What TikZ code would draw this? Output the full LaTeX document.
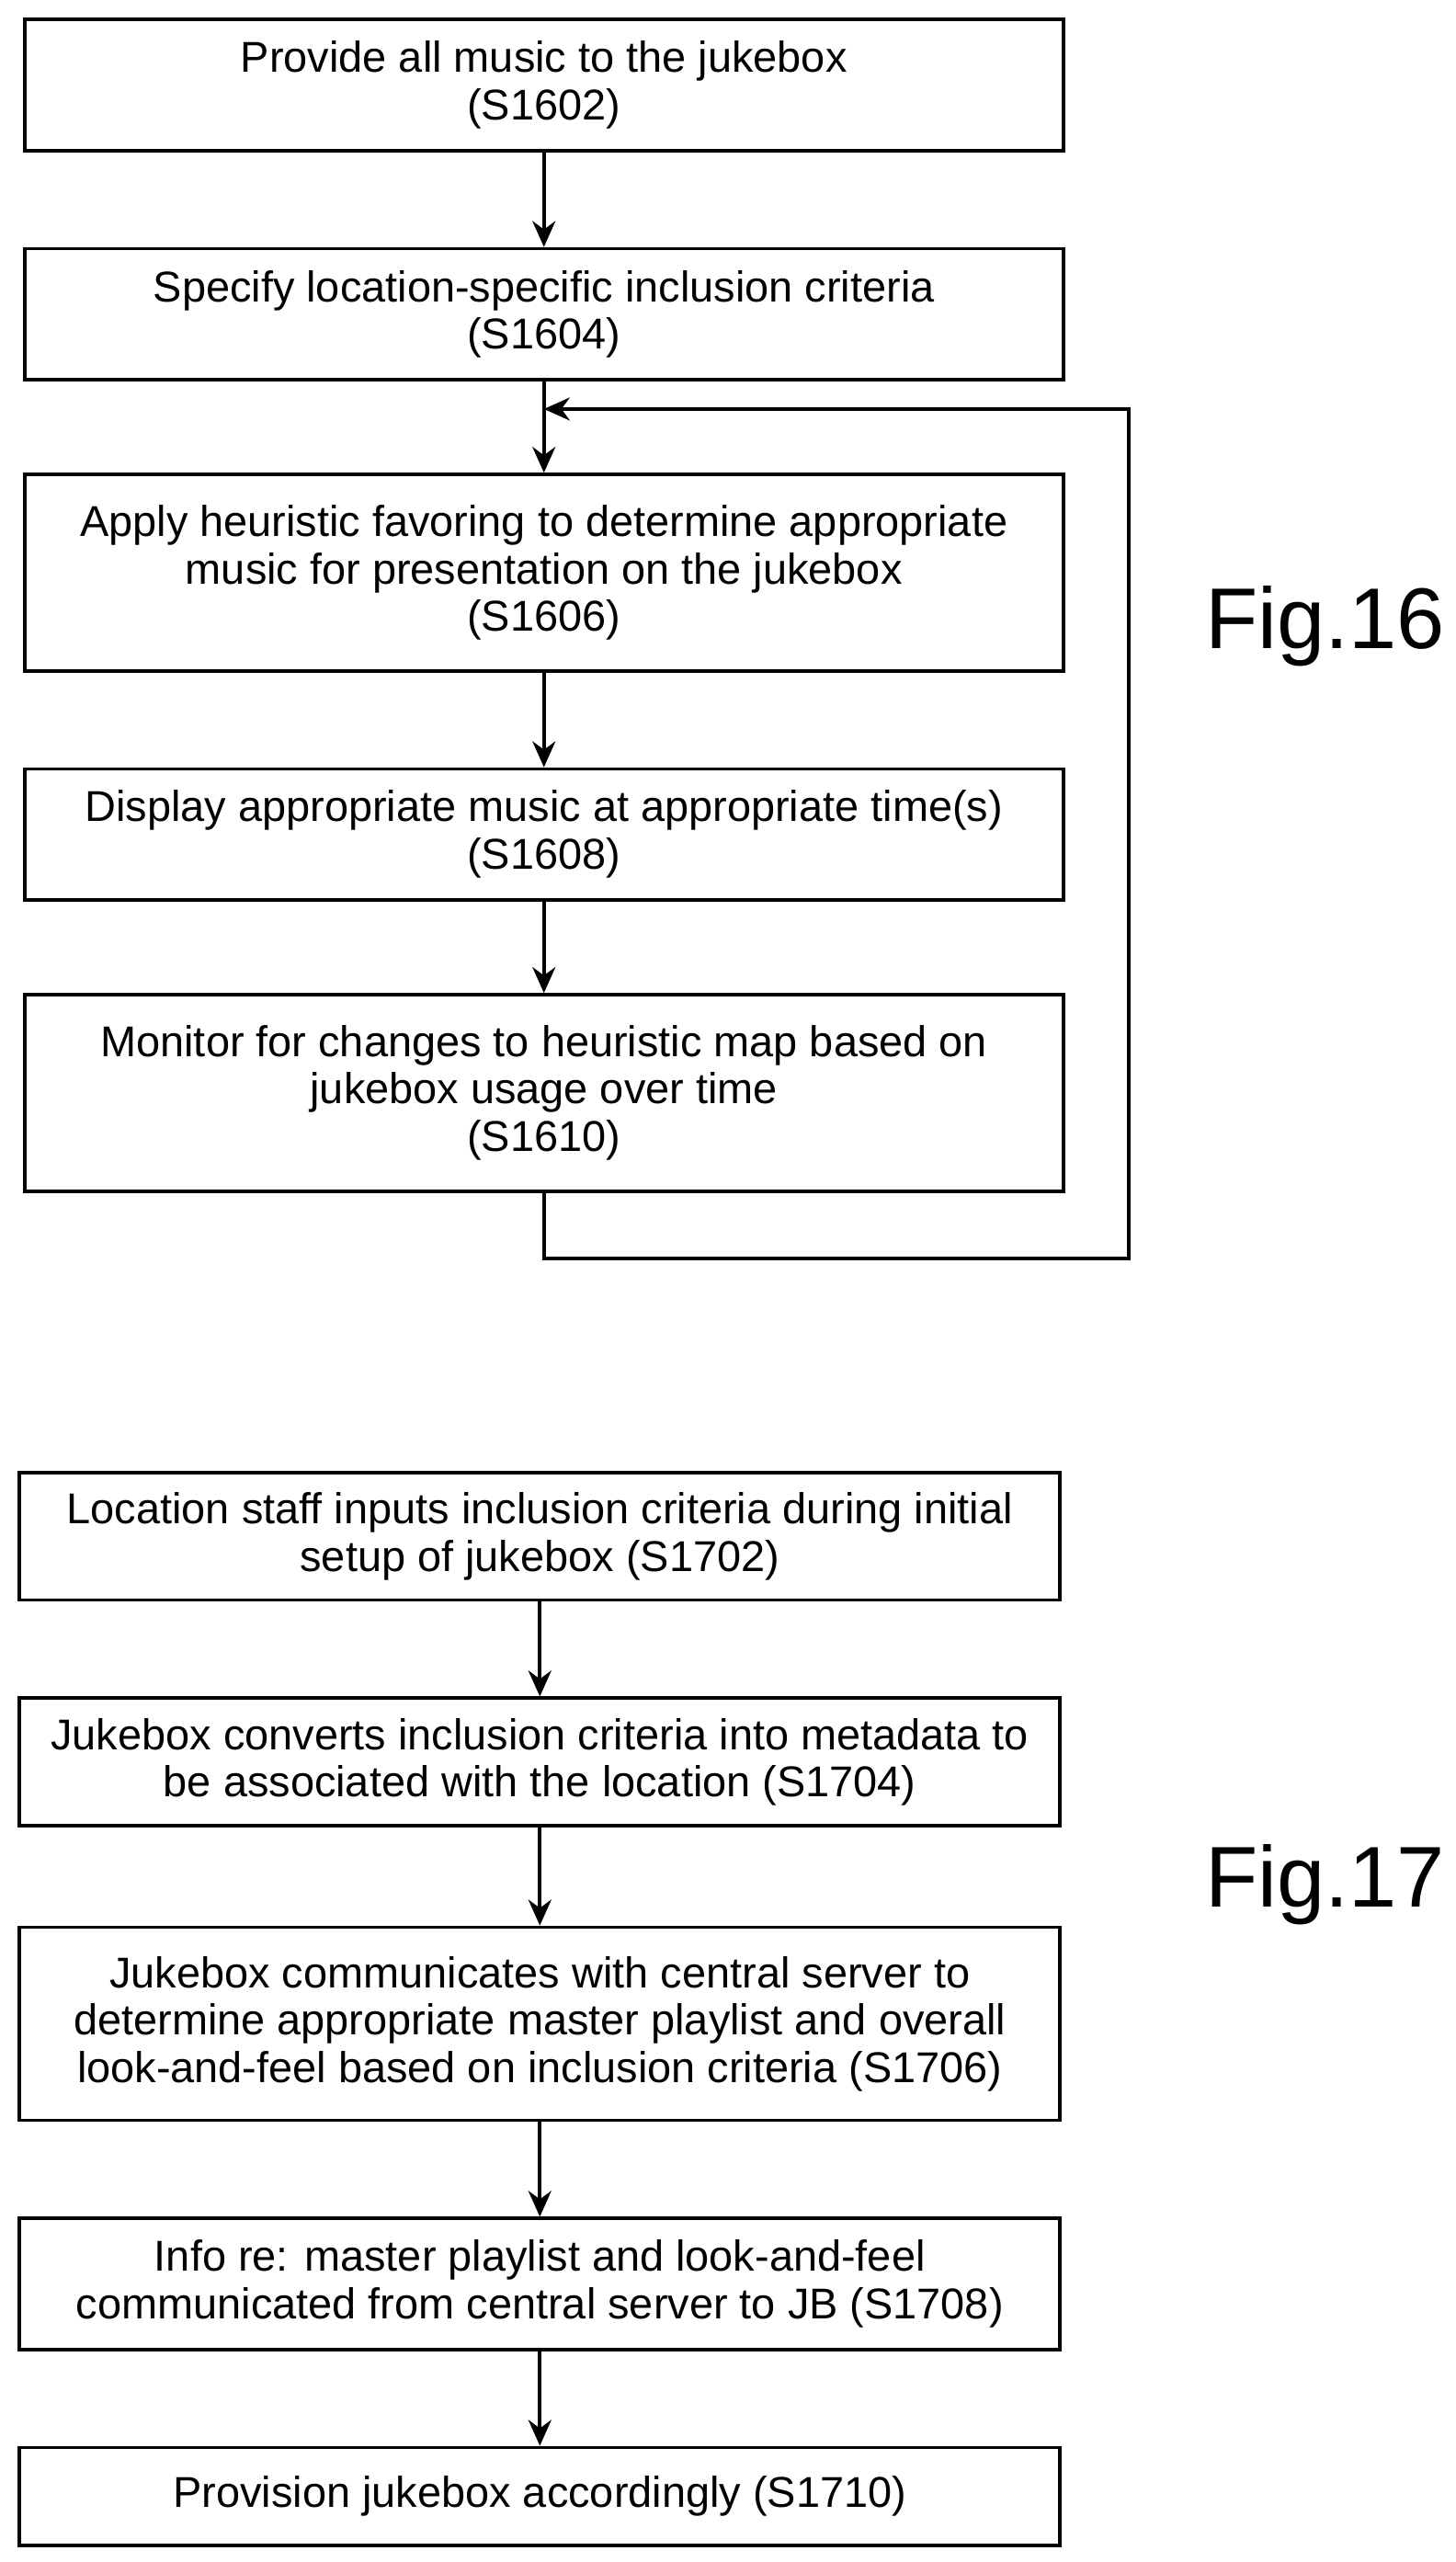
\documentclass[tikz,border=0pt]{standalone}
\usepackage{fontspec}
\setmainfont{Liberation Sans}
\usetikzlibrary{positioning, arrows.meta}
\begin{document}
\begin{tikzpicture}[stepbox/.style={rectangle, draw, line width=1.2pt, align=center, font=\fontsize{15}{16.5}\selectfont},
  flow/.style={->, >={Stealth[length=9pt,width=8pt]}, line width=1.2pt},
  figlabel/.style={font=\fontsize{30}{32}\selectfont}]
  \useasboundingbox (0,0) rectangle (17.8,-31.32);
  % Fig. 16
  \node[stepbox, minimum width=12.7cm, minimum height=1.6cm] (s1602) at (6.65,-1.04) {Provide all music to the jukebox\\(S1602)};
  \node[stepbox, minimum width=12.7cm, minimum height=1.6cm] (s1604) at (6.65,-3.84) {Specify location-specific inclusion criteria\\(S1604)};
  \node[stepbox, minimum width=12.7cm, minimum height=2.4cm] (s1606) at (6.65,-7.0) {Apply heuristic favoring to determine appropriate\\music for presentation on the jukebox\\(S1606)};
  \node[stepbox, minimum width=12.7cm, minimum height=1.6cm] (s1608) at (6.65,-10.2) {Display appropriate music at appropriate time(s)\\(S1608)};
  \node[stepbox, minimum width=12.7cm, minimum height=2.4cm] (s1610) at (6.65,-13.36) {Monitor for changes to heuristic map based on\\jukebox usage over time\\(S1610)};
  \node[figlabel] (fig16) at (16.2,-7.66) {Fig.16};
  \coordinate (join) at (6.65,-5.0);
  \draw[flow] (s1602) -- (s1604);
  \draw[line width=1.2pt] (s1604) -- (join);
  \draw[flow] (join) -- (s1606);
  \draw[flow] (s1606) -- (s1608);
  \draw[flow] (s1608) -- (s1610);
  \draw[flow] (s1610.south) -- ++(0,-0.8) -| (13.8,-5.0) -- (join);
  % Fig. 17
  \node[stepbox, minimum width=12.72cm, minimum height=1.56cm] (s1702) at (6.6,-18.78) {Location staff inputs inclusion criteria during initial\\setup of jukebox (S1702)};
  \node[stepbox, minimum width=12.72cm, minimum height=1.56cm] (s1704) at (6.6,-21.54) {Jukebox converts inclusion criteria into metadata to\\be associated with the location (S1704)};
  \node[stepbox, minimum width=12.72cm, minimum height=2.36cm] (s1706) at (6.6,-24.74) {Jukebox communicates with central server to\\determine appropriate master playlist and overall\\look-and-feel based on inclusion criteria (S1706)};
  \node[stepbox, minimum width=12.72cm, minimum height=1.6cm] (s1708) at (6.6,-27.92) {Info re: master playlist and look-and-feel\\communicated from central server to JB (S1708)};
  \node[stepbox, minimum width=12.72cm, minimum height=1.2cm] (s1710) at (6.6,-30.52) {Provision jukebox accordingly (S1710)};
  \node[figlabel] (fig17) at (16.2,-23.04) {Fig.17};
  \draw[flow] (s1702) -- (s1704);
  \draw[flow] (s1704) -- (s1706);
  \draw[flow] (s1706) -- (s1708);
  \draw[flow] (s1708) -- (s1710);
\end{tikzpicture}
\end{document}
